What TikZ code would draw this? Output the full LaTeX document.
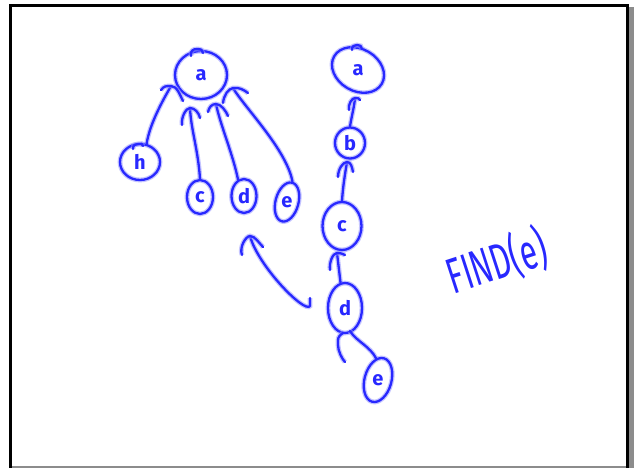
\documentclass[tikz,border=0pt]{standalone}
\usepackage{fontspec}
\setmainfont{Fira Sans}
\usetikzlibrary{shapes.geometric}
\definecolor{inkblue}{RGB}{40,40,255}
\definecolor{inkglow}{RGB}{150,150,255}
\tikzset{
  ink/.style={draw=inkblue, line width=2.3pt, line cap=round, line join=round,
    preaction={draw=inkglow, line width=4.8pt, opacity=0.55}},
  vtx/.style={ink, ellipse, inner sep=0pt, text=inkblue,
    font=\fontsize{20}{20}\selectfont\bfseries},
  framebar/.style={fill=black},
  shadowbar/.style={fill=black!45},
}
\begin{document}
\begin{tikzpicture}[x=1pt,y=-1pt]
\useasboundingbox (0,0) rectangle (637,468);
\fill[white] (0,0) rectangle (637,468);

% slide frame with its drop shadow
\fill[shadowbar] (628.5,7) rectangle (633.5,468);
\fill[shadowbar] (11,466) rectangle (628,468);
\fill[framebar] (9,4) rectangle (628.5,6.8);
\fill[framebar] (9,4) rectangle (11.8,468);
\fill[framebar] (626,4) rectangle (628.8,468);

% tree after path compression
\node[vtx, minimum width=52pt, minimum height=48pt] (q) at (201,75) {a};
\node[vtx, minimum width=40pt, minimum height=36pt] (h) at (140,162) {h};
\node[vtx, minimum width=26pt, minimum height=34pt] (c1) at (200,197) {c};
\node[vtx, minimum width=25pt, minimum height=34pt] (d1) at (244,196) {d};
\node[vtx, minimum width=23pt, minimum height=40pt, rotate=-15] (e1) at (287,202) {\rotatebox{15}{e}};

% pen overlap where a circle was closed
\draw[ink] ([shift={(-10,-19)}]q.center) .. controls +(-1,-5) and +(-4,0) .. ([shift={(-4,-26)}]q.center)
  .. controls +(4,0) and +(0,-3) .. ([shift={(2,-22)}]q.center);
\draw[ink] ([shift={(-7,-13)}]h.center) .. controls +(0,-4) and +(-3,0) .. ([shift={(-2,-18)}]h.center)
  .. controls +(3,0) and +(0,-3) .. ([shift={(3,-16)}]h.center);

% hand-drawn arrow heads sit at these points
\coordinate (tq1) at ([shift={(-30,11)}]q.center);
\coordinate (tq2) at ([shift={(-11,33)}]q.center);
\coordinate (tq3) at ([shift={(15,29)}]q.center);
\coordinate (tq4) at ([shift={(32,13)}]q.center);

\draw[ink] (h.70) .. controls +(3,-20) and +(-8,14) .. (tq1);
\draw[ink] (c1.north) .. controls +(-2,-30) and +(1,22) .. (tq2);
\draw[ink] (d1.110) .. controls +(-5,-25) and +(4,20) .. (tq3);
\draw[ink] (e1.north) .. controls +(-6,-32) and +(12,20) .. (tq4);

\draw[ink] (tq1) ++(-10,4) .. controls +(3,-4) and +(-5,0) .. ++(10,-4)
  .. controls +(6,0) and +(-3,-6) .. ++(12,15);
\draw[ink] (tq2) ++(-8,17) .. controls +(-1,-8) and +(-4,0) .. ++(8,-17)
  .. controls +(5,0) and +(-1,-5) .. ++(10,10);
\draw[ink] (tq3) ++(-8,8) .. controls +(1,-5) and +(-4,0) .. ++(8,-8)
  .. controls +(5,0) and +(-2,-5) .. ++(12,12);
\draw[ink] (tq4) ++(-10,15) .. controls +(1,-8) and +(-5,1) .. ++(10,-15)
  .. controls +(6,-1) and +(-4,-3) .. ++(15,5);

% chain before path compression
\node[vtx, minimum width=55pt, minimum height=42pt, rotate=-30] (a) at (358,70) {\rotatebox{30}{a}};
\node[vtx, minimum width=30pt, minimum height=31pt] (b) at (350,143) {b};
\node[vtx, minimum width=39pt, minimum height=48pt] (c) at (342,226) {c};
\node[vtx, minimum width=34pt, minimum height=50pt] (d) at (345,308) {d};
\node[vtx, minimum width=27pt, minimum height=45pt, rotate=-15] (e) at (378,380) {\rotatebox{15}{e}};

\draw[ink] ([shift={(-6,-20)}]a.center) .. controls +(0,-4) and +(-3,0) .. ([shift={(-1,-25)}]a.center)
  .. controls +(3,0) and +(0,-3) .. ([shift={(4,-21)}]a.center);

\coordinate (ta) at ([shift={(-3,28)}]a.center);
\coordinate (tb) at ([shift={(-3,19)}]b.center);
\coordinate (tc) at ([shift={(-5,27)}]c.center);
\coordinate (td) at ([shift={(5,23)}]d.center);

\draw[ink] (b.north) .. controls +(2,-12) and +(-1,10) .. (ta);
\draw[ink] (c.north) .. controls +(1,-15) and +(-2,12) .. (tb);
\draw[ink] (d.100) -- (tc);
\draw[ink] (e.110) .. controls +(-6,-12) and +(6,10) .. (td);

\draw[ink] (ta) ++(-6,12) .. controls +(-1,-6) and +(-3,0) .. ++(6,-12)
  .. controls +(3,0) and +(-1,-2) .. ++(5,2);
\draw[ink] (tb) ++(-9,15) .. controls +(0,-8) and +(-4,0) .. ++(9,-15)
  .. controls +(4,0) and +(-1,-5) .. ++(6,10);
\draw[ink] (tc) ++(-7,17) .. controls +(-1,-8) and +(-4,0) .. ++(7,-17)
  .. controls +(4,0) and +(-2,-1) .. ++(8,2);
\draw[ink] (td) ++(-7,2) .. controls +(-6,4) and +(0,-6) .. ++(-5,12)
  .. controls +(0,6) and +(-3,-3) .. ++(7,17);

% sweeping arrow for the compression step
\coordinate (pcstart) at (310,298);
\coordinate (pcend) at (250,236);
\draw[ink] (pcstart) -- ++(0,8) .. controls +(-5,8) and +(8,30) .. (pcend);
\draw[ink] (pcend) ++(-8,19) .. controls +(-3,-8) and +(-4,0) .. ++(8,-19)
  .. controls +(5,0) and +(-4,-4) .. ++(13,11);

% operation label
\node[text=inkblue, rotate=18, font=\fontsize{50}{50}\selectfont] (find) at (497,262)
  {\scalebox{0.62}[1]{FIND(e)}};
\end{tikzpicture}
\end{document}
